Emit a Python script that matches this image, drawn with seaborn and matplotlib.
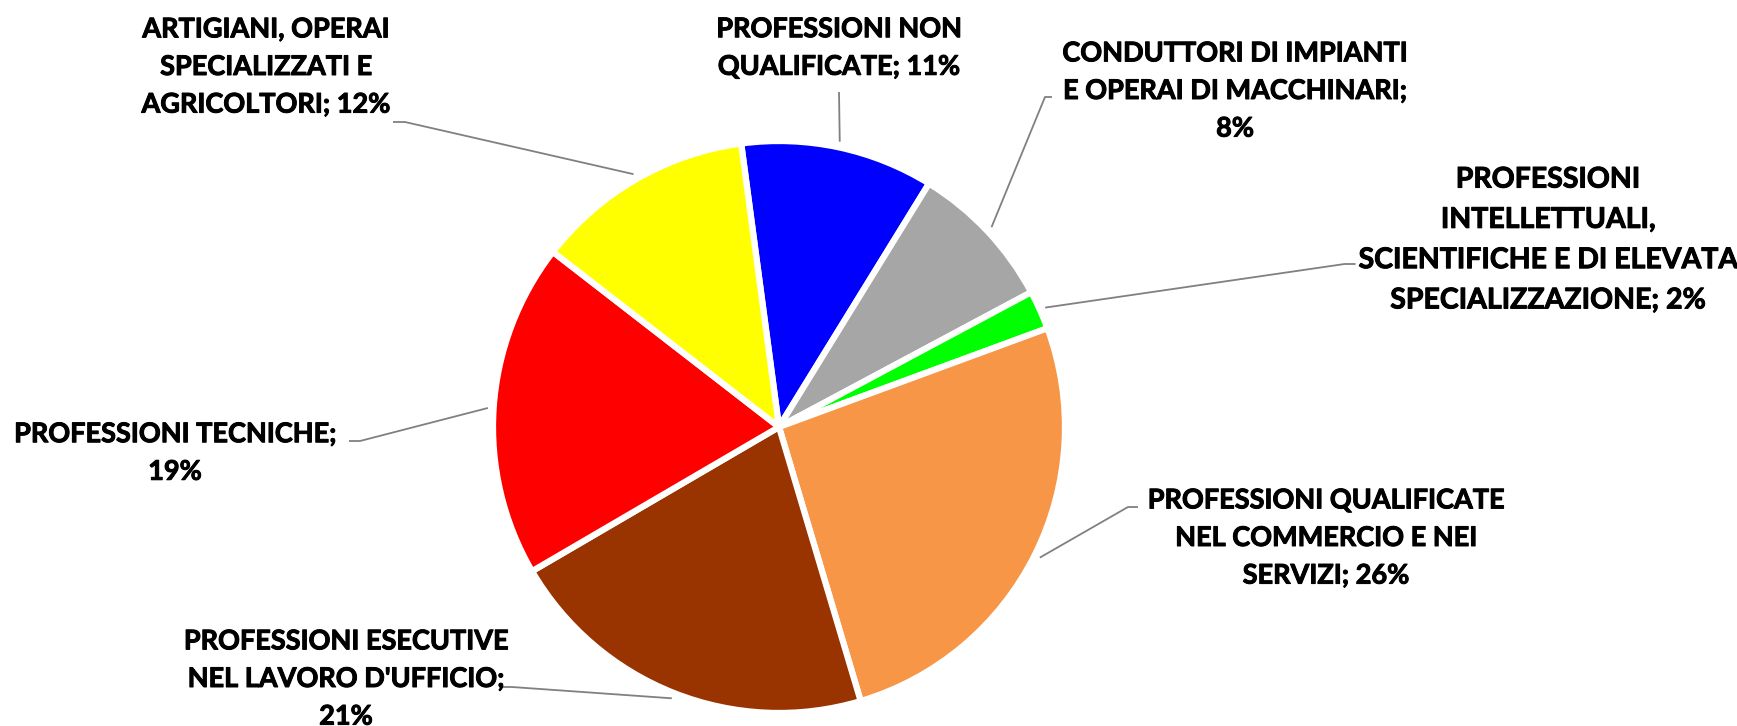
import numpy as np
import seaborn as sns
from matplotlib import pyplot as plt
from matplotlib import patheffects as pe

# Data (clockwise, starting with the blue slice near 12 o'clock)
categories = [
    "PROFESSIONI NON\nQUALIFICATE",
    "CONDUTTORI DI IMPIANTI\nE OPERAI DI MACCHINARI;\n",
    "PROFESSIONI\nINTELLETTUALI,\nSCIENTIFICHE E DI ELEVATA\nSPECIALIZZAZIONE",
    "PROFESSIONI QUALIFICATE\nNEL COMMERCIO E NEI\nSERVIZI",
    "PROFESSIONI ESECUTIVE\nNEL LAVORO D'UFFICIO;\n",
    "PROFESSIONI TECNICHE;\n",
    "ARTIGIANI, OPERAI\nSPECIALIZZATI E\nAGRICOLTORI",
]
shares = [10.9, 8.4, 2.2, 26.0, 21.2, 18.9, 12.4]
pct_labels = ["11%", "8%", "2%", "26%", "21%", "19%", "12%"]
colors = ["#0000FF", "#A6A6A6", "#00FF00", "#F79646", "#993300", "#FF0000", "#FFFF00"]

sns.set_theme(style="white")
plt.rcParams['font.family'] = ['Lato', 'DejaVu Sans']

W, H = 1737, 726
fig = plt.figure(figsize=(W / 100, H / 100), dpi=100)
ax = fig.add_axes([0, 0, 1, 1])

center = (779, 427)
R = 286
# y axis is inverted below, so counterclock=True draws clockwise on screen
wedges, _ = ax.pie(shares, colors=sns.color_palette(colors), startangle=-97.6,
                   counterclock=True, center=center, radius=R, frame=True,
                   wedgeprops=dict(edgecolor='white', linewidth=4.5))
ax.set_xlim(0, W)
ax.set_ylim(H, 0)
ax.set_aspect('equal')
ax.axis('off')

# label block centres, font sizes and leader-line start points (pixels)
label_pos = [(839, 48), (1235, 91), (1548, 240), (1326, 538), (346, 679), (175, 453), (266, 67)]
label_size = [19.5, 19.5, 20.5, 19.5, 19.5, 19.5, 19.5]
leader_start = [
    [(839, 92)],
    [(1052, 97), (1045, 97)],
    None,  # attached to the left edge of the text block, see below
    [(1138, 507), (1128, 507)],
    [(499, 687), (512, 687)],
    [(349, 441), (360, 441)],
    [(393, 122), (405, 122)],
]

fig.canvas.draw()
renderer = fig.canvas.get_renderer()

for w, cat, pct, pos, fs, pts in zip(wedges, categories, pct_labels, label_pos,
                                     label_size, leader_start):
    if cat.endswith('\n'):
        txt = cat + pct
    else:
        txt = cat + '; ' + pct
    t = ax.text(pos[0], pos[1], txt, ha='center', va='center', fontsize=fs,
                fontweight='bold', color='black', linespacing=1.68,
                path_effects=[pe.withStroke(linewidth=0.7, foreground='black')])
    if pts is None:
        bb = t.get_window_extent(renderer).transformed(ax.transData.inverted())
        left = min(bb.x0, bb.x1)
        pts = [(left - 3, 264), (left - 14, 264)]
    theta = np.deg2rad((w.theta1 + w.theta2) / 2)
    ex = center[0] + R * 1.02 * np.cos(theta)
    ey = center[1] + R * 1.02 * np.sin(theta)
    xs = [p[0] for p in pts] + [ex]
    ys = [p[1] for p in pts] + [ey]
    ax.plot(xs, ys, color='#808080', lw=1.3, solid_capstyle='butt')

fig.savefig('out.png', dpi=100, facecolor='white')
